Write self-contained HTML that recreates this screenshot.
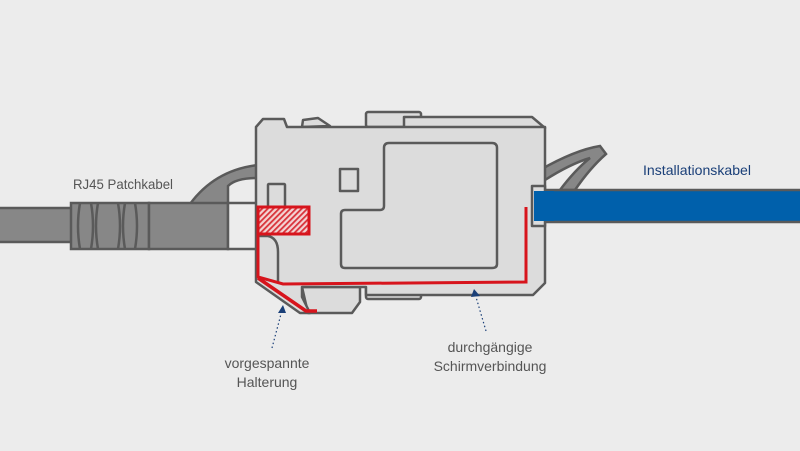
<!DOCTYPE html>
<html><head><meta charset="utf-8"><style>
html,body{margin:0;padding:0;background:#ececec;}
svg{display:block;}
text{font-family:"Liberation Sans",sans-serif;}
</style></head><body>
<svg width="800" height="451" viewBox="0 0 800 451" xmlns="http://www.w3.org/2000/svg">
<defs>
<pattern id="h" width="4" height="4" patternUnits="userSpaceOnUse" patternTransform="rotate(45)">
<rect width="4" height="4" fill="#f3d3d3"/><rect width="1.8" height="4" fill="#d9323a"/>
</pattern>
</defs>
<rect width="800" height="451" fill="#ececec"/>
<!-- patch cable -->
<path d="M190 204 Q215 170 258 165 L258 178 Q236 178 228 186 L228 204 Z" fill="#878787" stroke="#5a5a5a" stroke-width="2.5"/>
<rect x="-5" y="208" width="80" height="34" fill="#878787" stroke="#5a5a5a" stroke-width="2.5"/>
<rect x="71" y="203" width="78" height="46" fill="#878787" stroke="#5a5a5a" stroke-width="2.5"/>
<g stroke="#5a5a5a" stroke-width="2.5" fill="none">
<path d="M80 203 Q76 226 80 249"/><path d="M91 203 Q95 226 91 249"/>
<path d="M98 203 Q94 226 98 249"/><path d="M118 203 Q122 226 118 249"/>
<path d="M125 203 Q121 226 125 249"/><path d="M135 203 Q139 226 135 249"/>
</g>
<rect x="149" y="203" width="79" height="46" fill="#878787" stroke="#5a5a5a" stroke-width="2.5"/>
<rect x="228" y="203" width="30" height="46" fill="#ececec" stroke="#5a5a5a" stroke-width="2.5"/>
<!-- right cable loop -->
<path d="M540 170 Q575 150 600 146 L606 154 Q590 168 575 190 L560 190 Q575 170 590 158 Q570 164 545 180 Z" fill="#878787" stroke="#5a5a5a" stroke-width="2.5"/>
<rect x="532" y="190" width="275" height="32" fill="#0060ab" stroke="#5a5a5a" stroke-width="2.5"/>
<!-- top pieces -->
<g fill="#dcdcdc" stroke="#5a5a5a" stroke-width="2.5" stroke-linejoin="round">
<path d="M302 127 L303 120 L318 118 L330 126 Z"/>
<rect x="366" y="112" width="55" height="15" rx="2"/>
<path d="M404 117 L532 117 L545 128 L404 128 Z"/>
<path d="M302 287 L360 287 L360 302 L352 313 L308 313 Z"/>
<rect x="366" y="284" width="55" height="15" rx="2"/>
<!-- main body -->
<path d="M256 127 L263 119 L284 119 L287 127 L545 127 L545 283 L533 295 L366 295 L366 287 L302 287 L302 297 L310 313 L300 313 L256 282 Z"/>
<rect x="532" y="186" width="13" height="40" fill="#dcdcdc"/>
<path d="M384 148 Q384 143 389 143 L492 143 Q497 143 497 148 L497 264 Q497 268 492 268 L345 268 Q341 268 341 264 L341 214 Q341 210 345 210 L380 210 Q384 210 384 206 Z" fill="#dcdcdc"/>
<rect x="340" y="169" width="18" height="22"/>
<rect x="268" y="184" width="17" height="30" rx="1"/>
<path d="M258 236 L268 236 Q278 238 278 252 L278 283" fill="none"/>
</g>
<rect x="534" y="191" width="20" height="30" fill="#0060ab"/>
<!-- red shielding -->
<rect x="258" y="207" width="51" height="27" fill="url(#h)" stroke="#d7141c" stroke-width="3"/>
<path d="M258 234 L258 277 L283 284 L526 282 L526 207" fill="none" stroke="#d7141c" stroke-width="3"/>
<path d="M258 278 L306 311 L317 311" fill="none" stroke="#d7141c" stroke-width="3.5"/>
<!-- arrows -->
<g stroke="#1a3f78" stroke-width="1.2" stroke-dasharray="1.5 2.5" fill="none">
<line x1="272" y1="348" x2="281" y2="314"/>
<line x1="486" y1="331" x2="476" y2="297"/>
</g>
<path d="M278 313 L286 313 L283 305 Z" fill="#1a3f78"/>
<path d="M471 297 L480 296 L474 289 Z" fill="#1a3f78"/>
<!-- labels -->
<text x="73" y="189" font-size="14" fill="#555" textLength="100" lengthAdjust="spacingAndGlyphs">RJ45 Patchkabel</text>
<text x="643" y="175" font-size="14" fill="#1a3f78" textLength="108" lengthAdjust="spacingAndGlyphs">Installationskabel</text>
<text x="267" y="368" font-size="14" fill="#555" text-anchor="middle">vorgespannte</text>
<text x="267" y="387" font-size="14" fill="#555" text-anchor="middle">Halterung</text>
<text x="490" y="352" font-size="14" fill="#555" text-anchor="middle">durchgängige</text>
<text x="490" y="371" font-size="14" fill="#555" text-anchor="middle">Schirmverbindung</text>
</svg>
</body></html>
